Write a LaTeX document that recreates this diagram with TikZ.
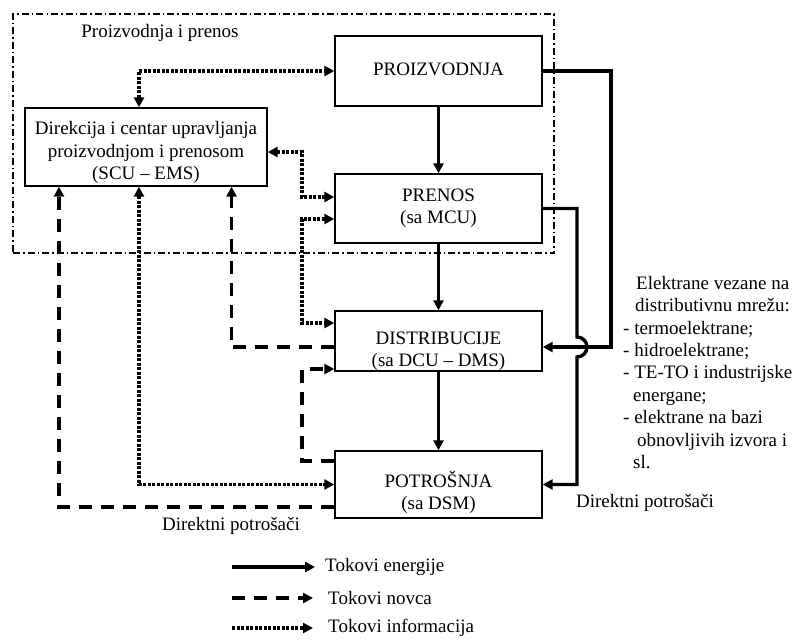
\documentclass[tikz,border=0pt]{standalone}
\usepackage{fontspec}
\setmainfont{Liberation Serif}
\usetikzlibrary{arrows.meta}
\begin{document}
\begin{tikzpicture}[x=1pt,y=-1pt,
  font=\fontsize{19}{22.4}\selectfont,
  box/.style={draw, line width=1.4pt, minimum width=207pt, inner sep=0pt},
  tiphead/.style={-{Triangle[length=10pt,width=10pt]}},
  energy/.style={line width=3.4pt, tiphead},
  money/.style={line width=3.6pt, dash pattern=on 13pt off 9pt, tiphead},
  info/.style={line width=3.6pt, dash pattern=on 3pt off 1.5pt},
  infotips/.style={info, {Triangle[length=10pt,width=10pt]}-{Triangle[length=10pt,width=10pt]}},
  region/.style={draw, line width=1.2pt, dash pattern=on 7pt off 3pt on 1.5pt off 3pt, inner sep=0pt},
  boxtext/.style={align=center, inner sep=0pt}
]
\useasboundingbox (0,0) rectangle (798,641);

% region
\node[region, minimum width=541pt, minimum height=239pt] (PT) at (283.5,133.5) {};
\node (PTlabel) at (160,33) {Proizvodnja i prenos};

% boxes
\node[box, minimum height=70pt, label={[boxtext,yshift=2pt]center:PROIZVODNJA}] (PROIZ) at (438.5,71) {};
\node[box, minimum height=69pt, label={[boxtext,yshift=0pt]center:{PRENOS\\(sa MCU)}}] (PRENOS) at (438.5,208.5) {};
\node[box, minimum width=242pt, minimum height=78pt, label={[boxtext,yshift=-5.5pt]center:{Direkcija i centar upravljanja\\proizvodnjom i prenosom\\(SCU – EMS)}}] (DIR) at (146,147) {};
\node[box, minimum height=60pt, label={[boxtext,yshift=-10pt]center:{DISTRIBUCIJE\\(sa DCU – DMS)}}] (DIST) at (438.5,341) {};
\node[box, minimum height=67pt, label={[boxtext,yshift=-8pt]center:{POTROŠNJA\\(sa DSM)}}] (POT) at (438.5,484.5) {};

% energy flows
\draw[energy] (PROIZ) -- (PRENOS);
\draw[energy] (PRENOS) -- (DIST);
\draw[energy] (DIST) -- (POT);
\draw[energy] (PROIZ.east) -| (611,347) -- ([yshift=-6pt]DIST.east);
\draw[energy] (PRENOS.east) -| (577,337) arc[start angle=90, end angle=-90, radius=10pt] |- (POT.east);

% information flows
\draw[infotips] ([xshift=-7pt]DIR.north) |- (PROIZ.west);
\draw[infotips] ([yshift=-5pt]DIR.east) -| (302,197) -- ([yshift=11.5pt]PRENOS.west);
\draw[infotips] ([yshift=-10.5pt]PRENOS.west) -| (302,323) -- ([yshift=18pt]DIST.west);
\draw[infotips] ([xshift=-7pt]DIR.south) |- (POT.west);

% money flows
\draw[money] ([yshift=-6pt]DIST.west) -| ([xshift=85.5pt]DIR.south);
\draw[money] ([yshift=23.5pt]POT.west) -| (302,369) -- ([yshift=-28pt]DIST.west);
\draw[money] ([yshift=-22.5pt]POT.west) -| ([xshift=-87pt]DIR.south);

% texts
\node (dp1) at (231,526) {Direktni potrošači};
\node (dp2) at (645,503) {Direktni potrošači};
\node[align=left, anchor=north west, inner sep=0pt] (el) at (623,276)
 {\hspace*{13pt}Elektrane vezane na\\
  \hspace*{12pt}distributivnu mrežu:\\
  - termoelektrane;\\
  - hidroelektrane;\\
  - TE-TO i industrijske\\
  \hspace*{10pt}energane;\\
  - elektrane na bazi\\
  \hspace*{14pt}obnovljivih izvora i\\
  \hspace*{10pt}sl.};

% legend
\node[anchor=west, inner sep=0pt] (L1) at (325,567) {Tokovi energije};
\node[anchor=west, inner sep=0pt] (L2) at (328,598) {Tokovi novca};
\node[anchor=west, inner sep=0pt] (L3) at (328,628) {Tokovi informacija};
\coordinate (L1s) at (232,567);
\coordinate (L2s) at (232,598);
\coordinate (L3s) at (232,628);
\draw[energy] (L1s) -- ([xshift=-10pt]L1.west);
\draw[money] (L2s) -- ([xshift=-15pt]L2.west);
\draw[info, tiphead] (L3s) -- ([xshift=-15pt]L3.west);
\end{tikzpicture}
\end{document}
